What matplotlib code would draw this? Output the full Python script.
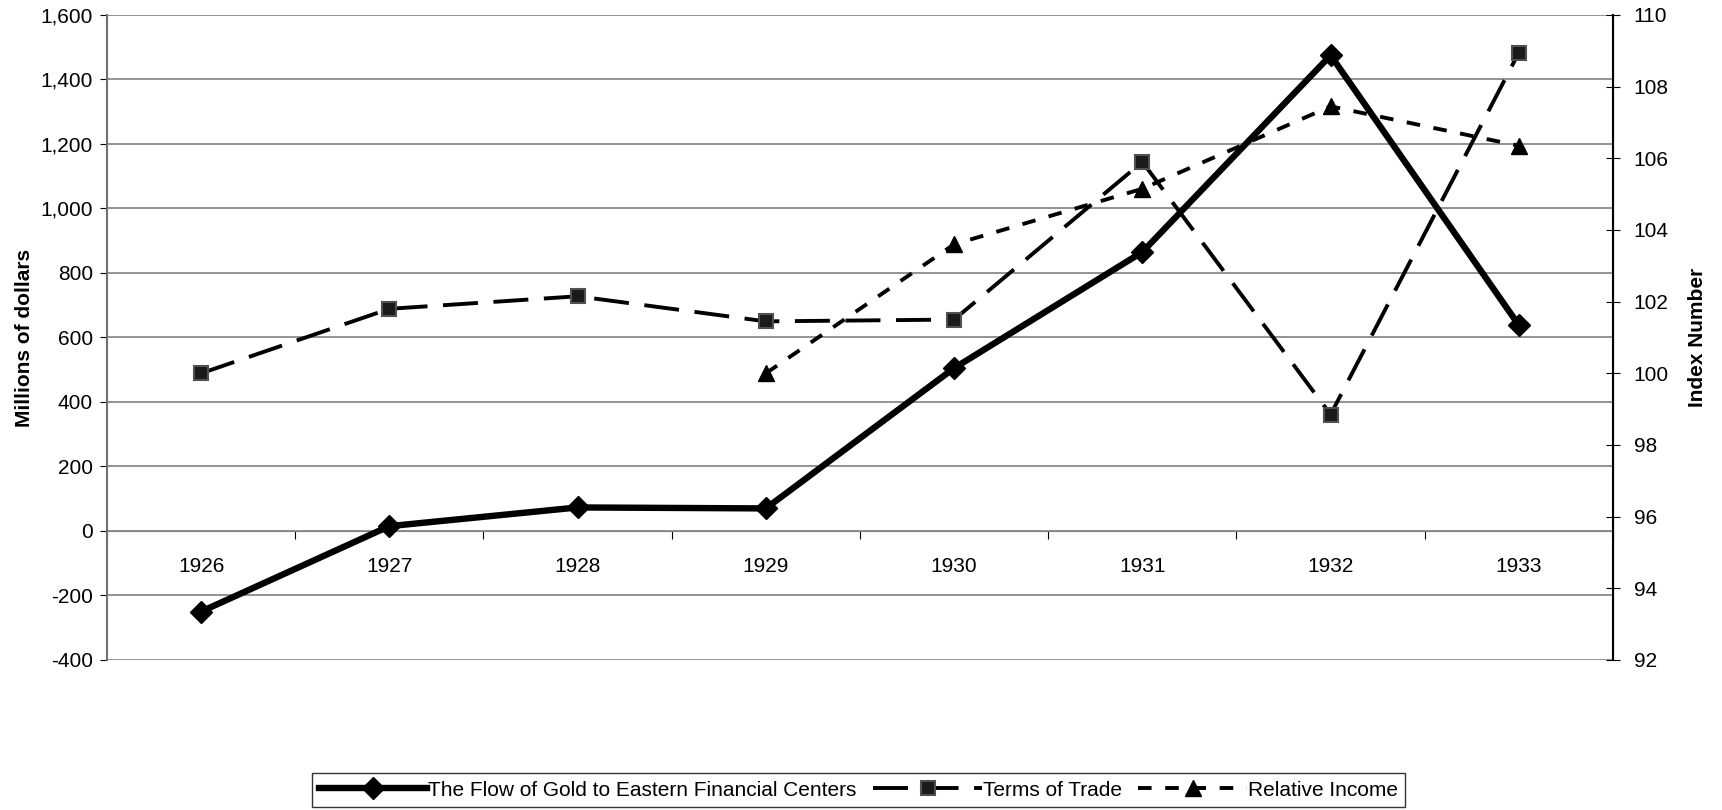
import numpy as np
import matplotlib
matplotlib.use("Agg")
import matplotlib.pyplot as plt

plt.rcParams['font.family'] = ['Liberation Sans', 'DejaVu Sans']

# Data
years = ['1926', '1927', '1928', '1929', '1930', '1931', '1932', '1933']
gold_flow = [-250, 15, 73, 70, 505, 865, 1475, 638]           # millions of dollars
terms_of_trade = [100.0, 101.8, 102.15, 101.45, 101.5, 105.9, 98.85, 108.95]
relative_income = [np.nan, np.nan, np.nan, 100.0, 103.6, 105.15, 107.45, 106.35]

x = np.arange(len(years))
FS = 15

fig = plt.figure(figsize=(17.22, 8.10), dpi=100)
ax = fig.add_axes([0.0621, 0.1852, 0.8746, 0.7963])
ax2 = ax.twinx()

# Left axis: gold flow
ax.set_ylim(-400, 1600)
ax.set_yticks(np.arange(-400, 1601, 200))
ax.set_yticklabels([f"{v:,}" for v in range(-400, 1601, 200)], fontsize=FS)
ax.yaxis.grid(True, color='#808080', lw=1.2)
ax.set_axisbelow(True)
ax.set_xlim(-0.5, 7.5)

# x axis crossing at 0, ticks between categories, labels at centres
ax.spines['bottom'].set_position(('data', 0))
ax.spines['bottom'].set_color('#808080')
ax.spines['top'].set_visible(False)
ax.spines['left'].set_color('#707070')
ax.spines['left'].set_linewidth(1.5)
ax.set_xticks(np.arange(-0.5, 7.6, 1))
ax.set_xticklabels([])
ax.tick_params(axis='x', which='major', length=6, color='black', direction='out')
ax.set_xticks(x, minor=True)
ax.set_xticklabels(years, minor=True, fontsize=FS)
ax.tick_params(axis='x', which='minor', length=0, pad=19)
ax.tick_params(axis='y', length=5, color='black', pad=5)

ax.set_ylabel('Millions of dollars', fontsize=FS, fontweight='bold', labelpad=5)

l1, = ax.plot(x, gold_flow, color='black', lw=4.6, marker='D', markersize=11,
              markerfacecolor='black', markeredgecolor='black', zorder=5,
              label='The Flow of Gold to Eastern Financial Centers')

# Right axis: index numbers
ax2.set_ylim(92, 110)
ax2.set_yticks(np.arange(92, 111, 2))
ax2.set_yticklabels([str(v) for v in range(92, 111, 2)], fontsize=FS)
ax2.tick_params(axis='y', direction='inout', length=10, pad=10)
ax2.spines['right'].set_linewidth(1.5)
ax2.spines['top'].set_visible(False)
ax2.spines['left'].set_visible(False)
ax2.spines['bottom'].set_visible(False)
ax2.set_ylabel('Index Number', fontsize=FS, fontweight='bold', labelpad=14)

l2, = ax2.plot(x, terms_of_trade, color='black', lw=2.8, dashes=(9, 4),
               marker='s', markersize=10, markerfacecolor='#1a1a1a',
               markeredgecolor='#505050', markeredgewidth=1.5,
               label='Terms of Trade')
l3, = ax2.plot(x, relative_income, color='black', lw=2.8, dashes=(3.5, 3.5),
               marker='^', markersize=11, markerfacecolor='black',
               markeredgecolor='black', label='Relative Income')

leg = fig.legend(handles=[l1, l2, l3], loc='lower center', ncol=3,
                 bbox_to_anchor=(0.4985, -0.009), fontsize=FS, frameon=True,
                 fancybox=False, edgecolor='black', handlelength=5.2,
                 handletextpad=0.05, columnspacing=0.8, numpoints=1,
                 borderpad=0.35)
leg.get_frame().set_linewidth(1.0)

fig.savefig('out.png', dpi=100, facecolor='white')
